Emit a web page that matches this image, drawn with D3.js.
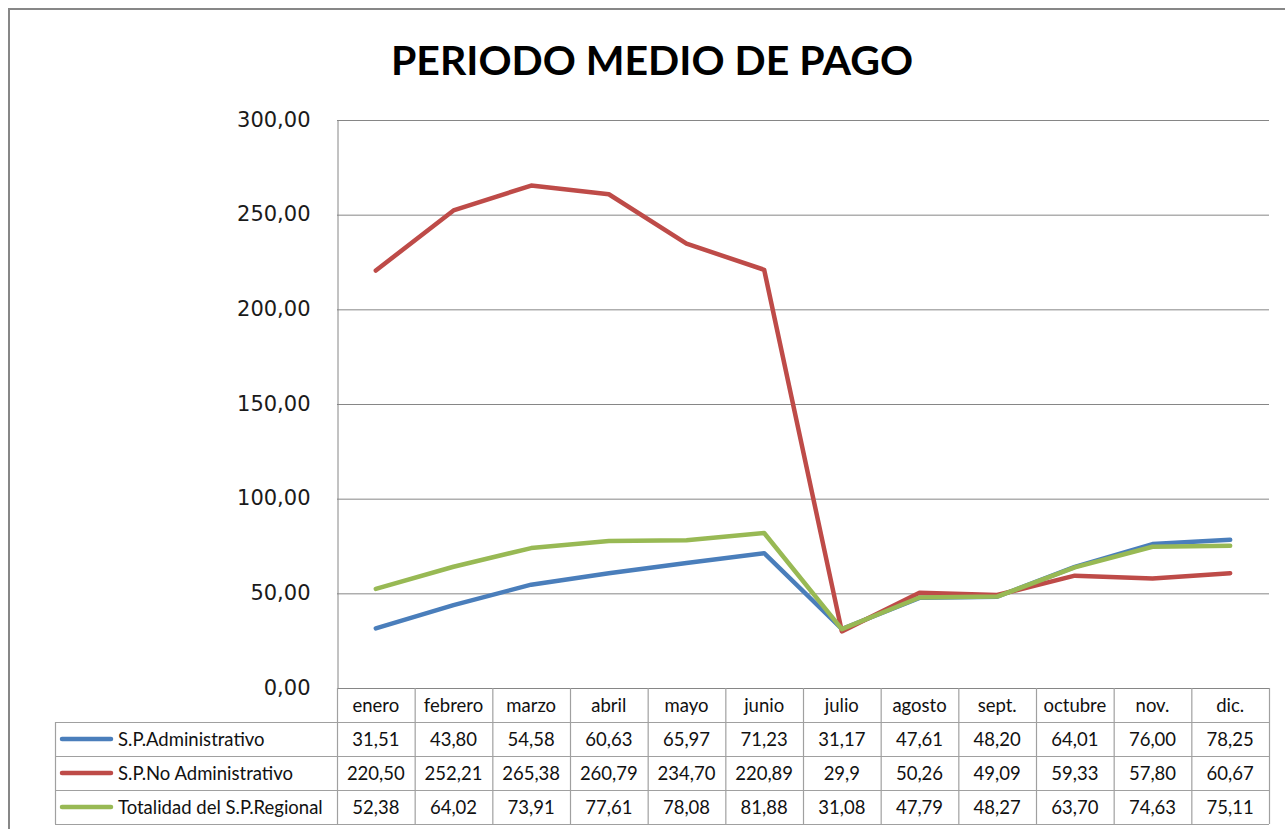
<!DOCTYPE html>
<html>
<head>
<meta charset="utf-8">
<script src="https://cdn.jsdelivr.net/npm/d3@7"></script>
<style>
  body { margin: 0; background: #fff; }
  svg { display: block; }
</style>
</head>
<body>
<div id="chart"></div>
<script>
// datos del grafico
const meses = ["enero", "febrero", "marzo", "abril", "mayo", "junio", "julio", "agosto", "sept.", "octubre", "nov.", "dic."];
const administrativo = [31.51, 43.80, 54.58, 60.63, 65.97, 71.23, 31.17, 47.61, 48.20, 64.01, 76.00, 78.25];
const noAdministrativo = [220.50, 252.21, 265.38, 260.79, 234.70, 220.89, 29.9, 50.26, 49.09, 59.33, 57.80, 60.67];
const totalidad = [52.38, 64.02, 73.91, 77.61, 78.08, 81.88, 31.08, 47.79, 48.27, 63.70, 74.63, 75.11];
const nombres = ["S.P.Administrativo", "S.P.No Administrativo", "Totalidad del S.P.Regional"];
const yTicks = [0, 50, 100, 150, 200, 250, 300];
// celdas que en la tabla original solo llevan un decimal
const unDecimal = [[1, 6]];

const W = 1285, H = 829;
const plot = { left: 337, right: 1269, top: 120, bottom: 688 };
const rowH = 34;

const es = d3.formatLocale({ decimal: ",", thousands: ".", grouping: [3], currency: ["", "€"] });
const fmt2 = es.format(".2f"), fmt1 = es.format(".1f");

const series = [
    { name: nombres[0], values: administrativo, color: "#4a7ebb" },
    { name: nombres[1], values: noAdministrativo, color: "#be4b48" },
    { name: nombres[2], values: totalidad, color: "#98b954" }
];

const svg = d3.select("#chart").append("svg")
    .attr("width", W).attr("height", H);

// marco exterior
svg.append("rect")
    .attr("x", 9).attr("y", 9)
    .attr("width", W + 20).attr("height", H)
    .attr("fill", "none").attr("stroke", "#878787").attr("stroke-width", 2);

svg.append("text")
    .attr("x", 652).attr("y", 75)
    .attr("text-anchor", "middle")
    .style("font-family", "Lato, 'Open Sans', sans-serif")
    .style("font-weight", "bold")
    .style("font-size", "41px")
    .attr("fill", "#000")
    .text("PERIODO MEDIO DE PAGO");

let x = d3.scaleBand().domain(meses).range([plot.left, plot.right]).paddingInner(0).paddingOuter(0);
let y = d3.scaleLinear().domain([0, 300]).range([plot.bottom, plot.top]);

// lineas de cuadricula
svg.append("g")
    .selectAll("line")
    .data(yTicks)
    .enter()
    .append("line")
    .attr("x1", plot.left).attr("x2", plot.right)
    .attr("y1", d => y(d) + 0.5).attr("y2", d => y(d) + 0.5)
    .attr("stroke", "#868686").attr("stroke-width", 1);

// eje vertical
let yAxis = svg.append("g")
    .attr("transform", "translate(" + (plot.left + 0.5) + ",0)")
    .call(d3.axisLeft(y).tickValues(yTicks).tickSize(0).tickPadding(27).tickFormat(fmt2));
yAxis.select(".domain").attr("stroke", "#868686");
yAxis.selectAll("text")
    .style("font-family", "'DejaVu Sans', Verdana, sans-serif")
    .style("font-size", "21px")
    .attr("fill", "#1a1a1a")
    .attr("dy", "0.3em");

// series
let line = d3.line()
    .x((d, i) => x(meses[i]) + x.bandwidth() / 2)
    .y(d => y(d));

svg.append("g")
    .selectAll("path")
    .data(series)
    .enter()
    .append("path")
    .attr("d", d => line(d.values))
    .attr("fill", "none")
    .attr("stroke", d => d.color)
    .attr("stroke-width", 4.5)
    .attr("stroke-linejoin", "round")
    .attr("stroke-linecap", "round");

// tabla de datos
const tablaLeft = 55;
const border = "#a0a0a0";
const tableFont = "Lato, 'Open Sans', sans-serif";
const tableSize = "18.5px";
let tabla = svg.append("g");

// cabecera de meses
tabla.selectAll(".mes")
    .data(meses)
    .enter()
    .append("text")
    .attr("x", d => x(d) + x.bandwidth() / 2)
    .attr("y", plot.bottom + rowH / 2 + 7)
    .attr("text-anchor", "middle")
    .style("font-family", tableFont)
    .style("font-size", tableSize)
    .attr("fill", "#111")
    .text(d => d);

let filas = tabla.selectAll(".fila")
    .data(series)
    .enter()
    .append("g")
    .attr("transform", (d, i) => "translate(0," + (plot.bottom + rowH * (i + 1)) + ")");

filas.append("line")
    .attr("x1", tablaLeft + 7).attr("x2", tablaLeft + 56)
    .attr("y1", rowH / 2).attr("y2", rowH / 2)
    .attr("stroke", d => d.color).attr("stroke-width", 4.5)
    .attr("stroke-linecap", "round");

filas.append("text")
    .attr("x", tablaLeft + 63).attr("y", rowH / 2 + 7)
    .style("font-family", tableFont)
    .style("font-size", tableSize)
    .attr("fill", "#111")
    .text(d => d.name);

filas.each(function (s, si) {
    d3.select(this).selectAll(".valor")
        .data(s.values)
        .enter()
        .append("text")
        .attr("x", (d, i) => x(meses[i]) + x.bandwidth() / 2)
        .attr("y", rowH / 2 + 7)
        .attr("text-anchor", "middle")
        .style("font-family", tableFont)
        .style("font-size", tableSize)
        .attr("fill", "#111")
        .text((d, i) => unDecimal.some(c => c[0] === si && c[1] === i) ? fmt1(d) : fmt2(d));
});

// bordes de la tabla
const tablaBottom = plot.bottom + rowH * 4;
let bordes = tabla.append("g").attr("stroke", border).attr("stroke-width", 1.2);
[1, 2, 3, 4].forEach(r => {
    bordes.append("line")
        .attr("x1", tablaLeft).attr("x2", plot.right)
        .attr("y1", plot.bottom + rowH * r + 0.5).attr("y2", plot.bottom + rowH * r + 0.5);
});
bordes.append("line")
    .attr("x1", tablaLeft + 0.5).attr("x2", tablaLeft + 0.5)
    .attr("y1", plot.bottom + rowH).attr("y2", tablaBottom);
bordes.selectAll(".v")
    .data(meses.slice(1).concat(["fin"]))
    .enter()
    .append("line")
    .attr("x1", d => (d === "fin" ? plot.right : x(d)) + 0.5)
    .attr("x2", d => (d === "fin" ? plot.right : x(d)) + 0.5)
    .attr("y1", plot.bottom).attr("y2", tablaBottom);
bordes.append("line")
    .attr("x1", plot.left + 0.5).attr("x2", plot.left + 0.5)
    .attr("y1", plot.bottom).attr("y2", tablaBottom);
</script>
</body>
</html>
